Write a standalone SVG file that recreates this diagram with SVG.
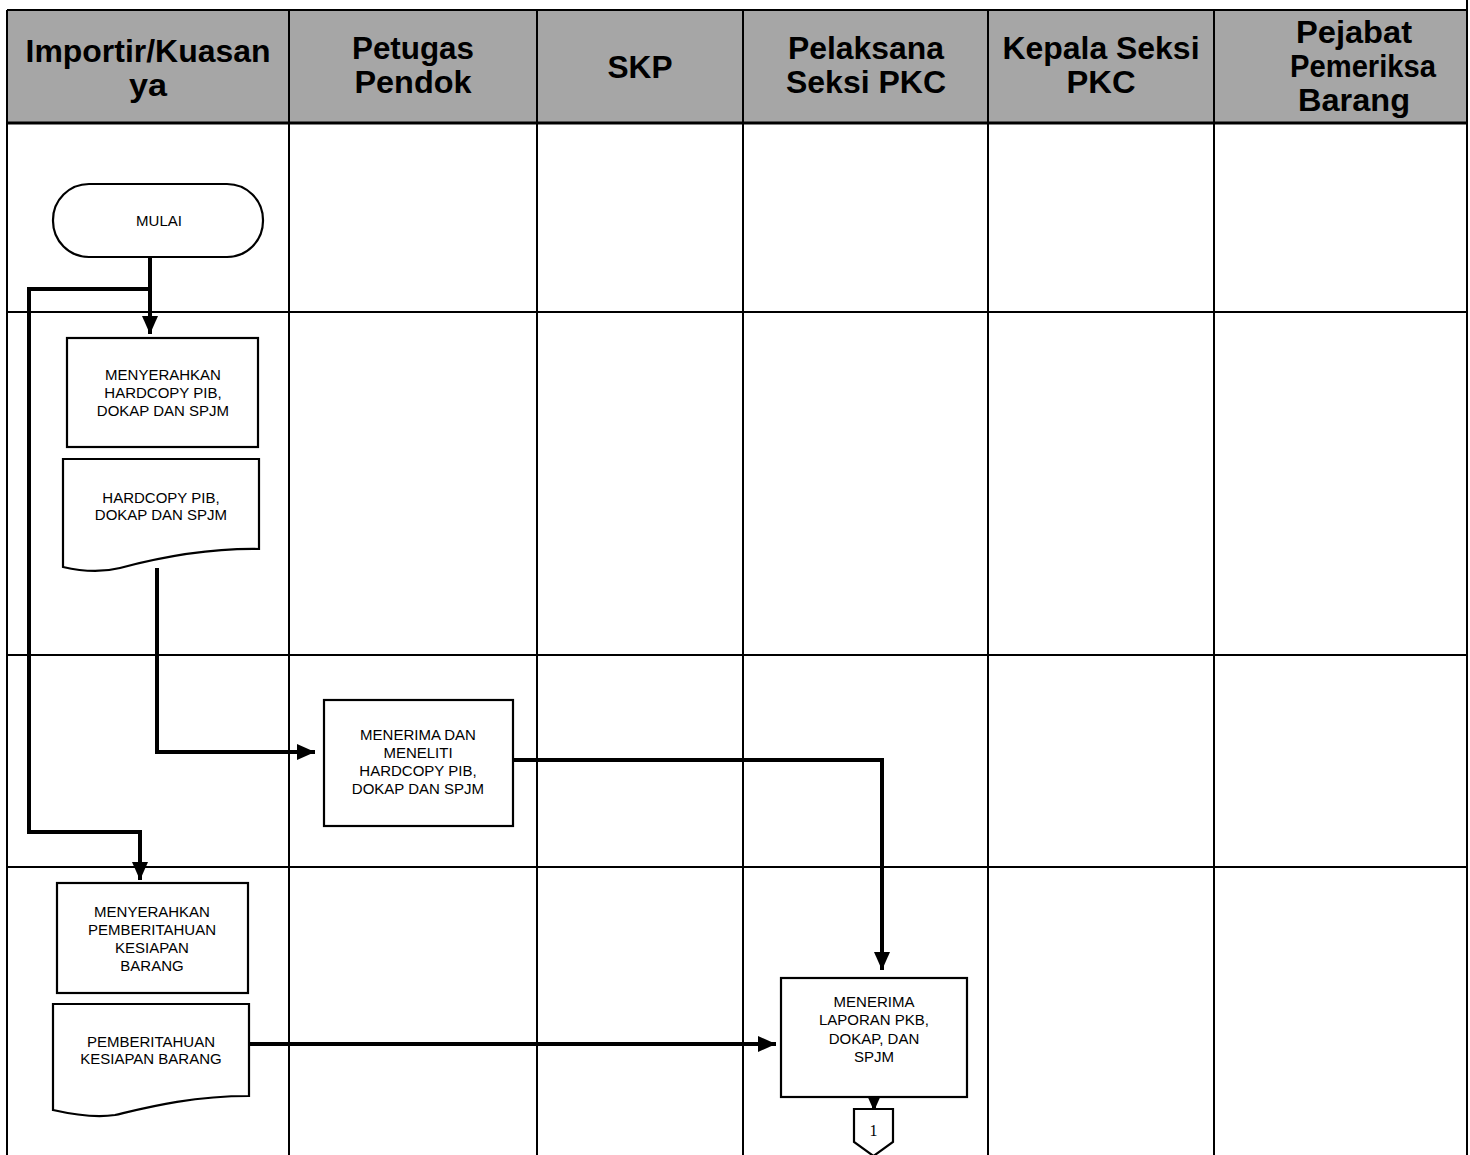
<svg xmlns="http://www.w3.org/2000/svg" width="1470" height="1155" viewBox="0 0 1470 1155">
<defs>
<style>
.hdr{fill:#a6a6a6;}
.grid{stroke:#000;stroke-width:2;fill:none;}
.ht{font-family:"Liberation Sans",Arial,sans-serif;font-weight:bold;font-size:32px;fill:#000;text-anchor:middle;}
.node{fill:#fff;stroke:#000;stroke-width:2.2;}
.nt{font-family:"Liberation Sans",Arial,sans-serif;font-size:15px;fill:#000;text-anchor:middle;}
.ct{font-family:"Liberation Serif","Times New Roman",serif;font-size:16px;fill:#000;text-anchor:middle;}
.conn{fill:none;stroke:#000;stroke-width:4;stroke-linejoin:miter;}
</style>
<marker id="ah" markerUnits="userSpaceOnUse" markerWidth="18" markerHeight="16" refX="18" refY="8" orient="auto">
<path d="M0,0 L18,8 L0,16 z" fill="#000"/>
</marker>
</defs>
<rect x="0" y="0" width="1470" height="1155" fill="#fff"/>
<g id="lanes">
<rect class="hdr" x="7" y="10" width="1460" height="113"/>
<path class="grid" d="M7,10 H1467 M1467,0 V1155 M7,10 V1155 M7,123 H1467 M7,312 H1467 M7,655 H1467 M7,867 H1467 M289,10 V1155 M537,10 V1155 M743,10 V1155 M988,10 V1155 M1214,10 V1155"/>
<path d="M7,123 H1467" stroke="#000" stroke-width="3"/>
<text class="ht" x="148" y="62" textLength="245" lengthAdjust="spacingAndGlyphs">Importir/Kuasan</text>
<text class="ht" x="148" y="96" textLength="38" lengthAdjust="spacingAndGlyphs">ya</text>
<text class="ht" x="413" y="59" textLength="122" lengthAdjust="spacingAndGlyphs">Petugas</text>
<text class="ht" x="413" y="93" textLength="117" lengthAdjust="spacingAndGlyphs">Pendok</text>
<text class="ht" x="640" y="78" textLength="65" lengthAdjust="spacingAndGlyphs">SKP</text>
<text class="ht" x="866" y="59" textLength="156" lengthAdjust="spacingAndGlyphs">Pelaksana</text>
<text class="ht" x="866" y="93" textLength="160" lengthAdjust="spacingAndGlyphs">Seksi PKC</text>
<text class="ht" x="1101" y="59" textLength="197" lengthAdjust="spacingAndGlyphs">Kepala Seksi</text>
<text class="ht" x="1101" y="93" textLength="69" lengthAdjust="spacingAndGlyphs">PKC</text>
<text class="ht" x="1354" y="43" textLength="116" lengthAdjust="spacingAndGlyphs">Pejabat</text>
<text class="ht" x="1363" y="77" textLength="146" lengthAdjust="spacingAndGlyphs">Pemeriksa</text>
<text class="ht" x="1354" y="111" textLength="112" lengthAdjust="spacingAndGlyphs">Barang</text>
</g>
<g id="connectors">
<path class="conn" d="M150,257 V334" marker-end="url(#ah)"/>
<path class="conn" d="M150,289 H29 V832 H140 V880" marker-end="url(#ah)"/>
<path class="conn" d="M157,568 V752 H315" marker-end="url(#ah)"/>
<path class="conn" d="M513,760 H882 V970" marker-end="url(#ah)"/>
<path class="conn" d="M249,1044 H776" marker-end="url(#ah)"/>
<path class="conn" d="M874,1097 V1111" marker-end="url(#ah)"/>
</g>
<g id="n_mulai">
<rect class="node" x="53" y="184" width="210" height="73" rx="36" ry="36"/>
<text class="nt" x="159" y="226">MULAI</text>
</g>
<g id="n_menyerahkan_hardcopy">
<rect class="node" x="67" y="338" width="191" height="109"/>
<text class="nt" x="163" y="380">MENYERAHKAN</text>
<text class="nt" x="163" y="398">HARDCOPY PIB,</text>
<text class="nt" x="163" y="416">DOKAP DAN SPJM</text>
</g>
<g id="d_hardcopy">
<path class="node" d="M63,459 H259 V549 C200,548 150,560 120,568 C100,573 80,571 63,567 Z"/>
<text class="nt" x="161" y="503">HARDCOPY PIB,</text>
<text class="nt" x="161" y="520">DOKAP DAN SPJM</text>
</g>
<g id="n_menerima_meneliti">
<rect class="node" x="324" y="700" width="189" height="126"/>
<text class="nt" x="418" y="740">MENERIMA DAN</text>
<text class="nt" x="418" y="758">MENELITI</text>
<text class="nt" x="418" y="776">HARDCOPY PIB,</text>
<text class="nt" x="418" y="794">DOKAP DAN SPJM</text>
</g>
<g id="n_menyerahkan_pemberitahuan">
<rect class="node" x="57" y="883" width="191" height="110"/>
<text class="nt" x="152" y="917">MENYERAHKAN</text>
<text class="nt" x="152" y="935">PEMBERITAHUAN</text>
<text class="nt" x="152" y="953">KESIAPAN</text>
<text class="nt" x="152" y="971">BARANG</text>
</g>
<g id="d_pemberitahuan">
<path class="node" d="M53,1004 H249 V1096 C190,1096 145,1108 115,1115 C95,1118 75,1115 53,1110 Z"/>
<text class="nt" x="151" y="1047">PEMBERITAHUAN</text>
<text class="nt" x="151" y="1064">KESIAPAN BARANG</text>
</g>
<g id="n_menerima_laporan">
<rect class="node" x="781" y="978" width="186" height="119"/>
<text class="nt" x="874" y="1007">MENERIMA</text>
<text class="nt" x="874" y="1025">LAPORAN PKB,</text>
<text class="nt" x="874" y="1044">DOKAP, DAN</text>
<text class="nt" x="874" y="1062">SPJM</text>
</g>
<g id="c_1">
<path class="node" d="M854,1109 H893 V1142 L873.5,1156 L854,1142 Z"/>
<text class="ct" x="873.5" y="1136">1</text>
</g>
</svg>
